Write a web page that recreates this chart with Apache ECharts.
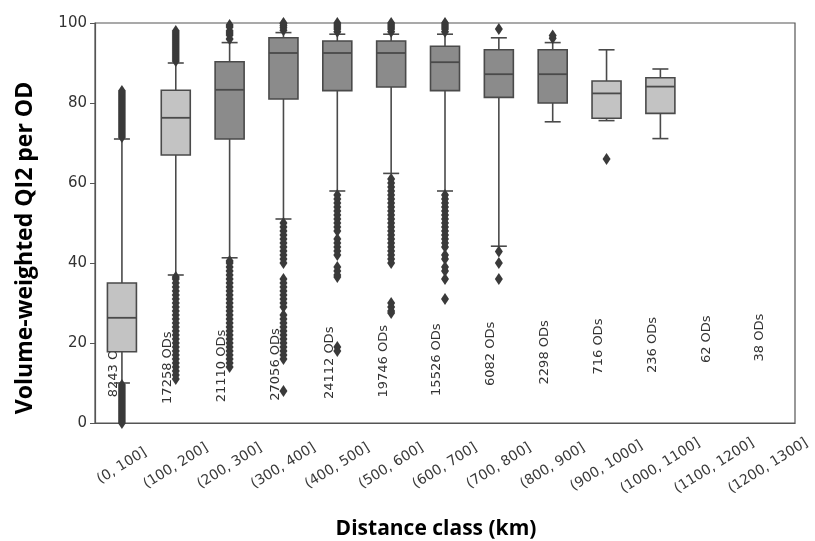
<!DOCTYPE html>
<html>
<head>
<meta charset="utf-8">
<script src="https://cdn.jsdelivr.net/npm/echarts@6/dist/echarts.min.js"></script>
<style>html,body{margin:0;padding:0;background:#fff}#c{width:815px;height:541px}</style>
</head>
<body>
<div id="c"></div>
<script>
// ---------------- data ----------------
const categories = ['(0, 100]','(100, 200]','(200, 300]','(300, 400]','(400, 500]','(500, 600]','(600, 700]','(700, 800]','(800, 900]','(900, 1000]','(1000, 1100]','(1100, 1200]','(1200, 1300]'];
// [lower whisker, Q1, median, Q3, upper whisker]; null = no box
const boxStats = [
  [10, 17.8, 26.3, 35, 71],
  [37, 67, 76.3, 83.2, 90],
  [41.3, 71, 83.3, 90.3, 95.1],
  [51, 81, 92.5, 96.3, 97.6],
  [58, 83.1, 92.5, 95.5, 97.2],
  [62.4, 84, 92.5, 95.5, 97.2],
  [58, 83.1, 90.2, 94.2, 97.2],
  [44.2, 81.4, 87.2, 93.3, 96.3],
  [75.3, 80, 87.2, 93.3, 95.1],
  [75.6, 76.2, 82.4, 85.5, 93.3],
  [71.1, 77.4, 84.1, 86.3, 88.5],
  null,
  null
];
const outliers = [
  [71.5,72,72.5,73,73.5,74,74.5,75,75.5,76,76.5,77,77.5,78,78.5,79,79.5,80,80.5,81,81.5,82,82.5,83, 9.5,9,8.5,8,7.5,7,6.5,6,5.5,5,4.5,4,3.5,3,2.5,2,1.5,1,0.5,0],
  [90.5,91,91.5,92,92.5,93,93.5,94,94.5,95,95.5,96,96.5,97,97.5,98, 36.5,36,35,34,33,32,31,30,29,28,27,26,25,24,23,22,21,20,19,18,17,16,15,14,13,12,11],
  [96,97,97.5,98,99,99.5, 40.5,40,39,38,37,36,35,34,33,32,31,30,29,28,27,26,25,24,23,22,21,20,19,18,17,16,15,14],
  [98.2,98.8,99.3,99.8,100, 50,49,48,47,46,45,44,43,42,41,40, 36,35,34,33,32,31,30,29,27,26,25,24,23,22,21,20,19,18,17,16, 8],
  [97.8,98.5,99,99.5,100, 57,56,55,54,53,52,51,50,49,48, 46,45,44,43,42, 39,38,37,36.5, 19,18],
  [97.8,98.5,99,99.5,100, 61,60,59,58,57,56,55,54,53,52,51,50,49,48,47,46,45,44,43,42,41,40, 30,29,28,27.5],
  [97.8,98.5,99,99.5,100, 57,56,55,54,53,52,51,50,49,48,47,46,45,44, 42,41, 39,38,36, 31],
  [98.5, 42.9, 40, 36],
  [96.2, 96.9],
  [66],
  [],
  [],
  []
];
const odLabels = ['8243 ODs','17258 ODs','21110 ODs','27056 ODs','24112 ODs','19746 ODs','15526 ODs','6082 ODs','2298 ODs','716 ODs','236 ODs','62 ODs','38 ODs'];
const yTicks = [0, 20, 40, 60, 80, 100];

// ---------------- styles ----------------
const lightBoxes = [0, 1, 9, 10];
const LIGHT = '#c3c3c3', DARK = '#8b8b8b', EDGE = '#4a4a4a';

const boxData = [];
boxStats.forEach((s, i) => { if (s) boxData.push([i].concat(s)); });
const outlierData = [];
outliers.forEach((arr, i) => arr.forEach(v => outlierData.push([i, v])));
const labelData = odLabels.map((t, i) => [i, 22.5 + i * 0.4]);

const chart = echarts.init(document.getElementById('c'), null, {renderer: 'canvas'});
chart.setOption({
  animation: false,
  backgroundColor: '#fff',
  grid: {left: 95, right: 20, top: 23, bottom: 118, show: true, borderColor: '#555', borderWidth: 1.2, backgroundColor: 'transparent'},
  xAxis: {
    type: 'category', data: categories, boundaryGap: true,
    axisLine: {lineStyle: {color: '#555', width: 1.2}},
    axisTick: {alignWithLabel: true, length: 5, lineStyle: {color: '#555'}},
    axisLabel: {rotate: 32, align: 'center', verticalAlign: 'middle', color: '#3a3a3a',
      fontFamily: 'DejaVu Sans', fontSize: 14, margin: 43, interval: 0},
    splitLine: {show: false}
  },
  yAxis: {
    type: 'value', min: 0, max: 100, interval: 20,
    axisLine: {show: true, lineStyle: {color: '#555', width: 1.2}},
    axisTick: {show: true, length: 5, lineStyle: {color: '#555'}},
    axisLabel: {color: '#333', fontFamily: 'DejaVu Sans', fontSize: 15, margin: 8,
      formatter: v => yTicks.indexOf(v) >= 0 ? String(v) : ''},
    splitLine: {show: false}
  },
  graphic: [{
    type: 'text', x: 436, y: 529,
    style: {text: 'Distance class (km)', textAlign: 'center', textVerticalAlign: 'middle',
      font: 'bold 21px "Open Sans"', fill: '#000'}
  }, {
    type: 'text', x: 25, y: 248, rotation: Math.PI / 2,
    style: {text: 'Volume-weighted QI2 per OD', textAlign: 'center', textVerticalAlign: 'middle',
      font: 'bold 23px "Open Sans"', fill: '#000'}
  }],
  series: [
    {
      type: 'custom', z: 1, data: labelData,
      renderItem: (params, api) => {
        const p = api.coord([api.value(0), api.value(1)]);
        return {type: 'text', x: p[0] - 8, y: p[1], rotation: Math.PI / 2,
          style: {text: odLabels[params.dataIndex], align: 'right', verticalAlign: 'middle',
            fill: '#333', font: '13px "DejaVu Sans"'}};
      }
    },
    {
      type: 'custom', z: 2, data: boxData,
      renderItem: (params, api) => {
        const i = api.value(0);
        const lo = api.coord([i, api.value(1)]);
        const q1 = api.coord([i, api.value(2)]);
        const md = api.coord([i, api.value(3)]);
        const q3 = api.coord([i, api.value(4)]);
        const hi = api.coord([i, api.value(5)]);
        const x = lo[0], hw = 14.5, cw = 8;
        const fill = lightBoxes.indexOf(i) >= 0 ? LIGHT : DARK;
        const ls = {stroke: EDGE, lineWidth: 1.6};
        return {type: 'group', children: [
          {type: 'line', shape: {x1: x, y1: lo[1], x2: x, y2: q1[1]}, style: ls},
          {type: 'line', shape: {x1: x, y1: q3[1], x2: x, y2: hi[1]}, style: ls},
          {type: 'line', shape: {x1: x - cw, y1: lo[1], x2: x + cw, y2: lo[1]}, style: ls},
          {type: 'line', shape: {x1: x - cw, y1: hi[1], x2: x + cw, y2: hi[1]}, style: ls},
          {type: 'rect', shape: {x: x - hw, y: q3[1], width: 2 * hw, height: q1[1] - q3[1]},
            style: {fill: fill, stroke: EDGE, lineWidth: 1.6}},
          {type: 'line', shape: {x1: x - hw, y1: md[1], x2: x + hw, y2: md[1]}, style: {stroke: EDGE, lineWidth: 1.8}}
        ]};
      }
    },
    {
      type: 'scatter', z: 3, data: outlierData, symbol: 'diamond', symbolSize: [8, 12],
      itemStyle: {color: '#3a3a3a', opacity: 1}
    }
  ]
});
</script>
</body>
</html>
